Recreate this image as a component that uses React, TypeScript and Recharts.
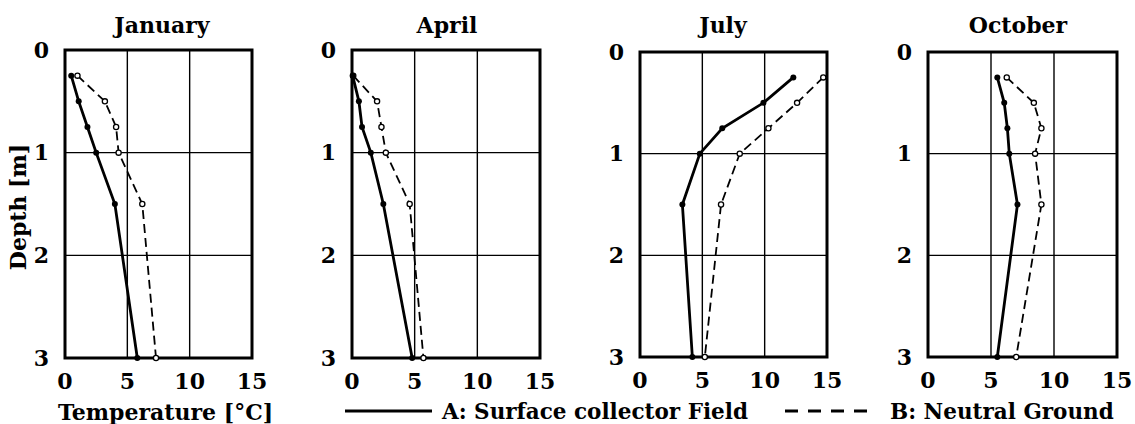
import React from 'react';
import { ScatterChart, Scatter, XAxis, YAxis, CartesianGrid, ReferenceArea } from 'recharts';

const FONT = '"DejaVu Serif", serif';

// depth of each measuring point [m]
const depths = [0.25, 0.5, 0.75, 1, 1.5, 3];
const tempTicks = [0, 5, 10, 15];
const depthTicks = [0, 1, 2, 3];

// temperatures [°C], A = surface collector field, B = neutral ground
const janA = [0.5, 1.1, 1.8, 2.5, 4.0, 5.8];
const janB = [1.0, 3.2, 4.1, 4.3, 6.2, 7.3];
const aprA = [0.05, 0.55, 0.8, 1.5, 2.5, 4.8];
const aprB = [0.1, 2.0, 2.35, 2.7, 4.6, 5.7];
const julA = [12.3, 9.9, 6.6, 4.8, 3.4, 4.2];
const julB = [14.7, 12.6, 10.3, 8.0, 6.5, 5.2];
const octA = [5.5, 6.05, 6.3, 6.45, 7.1, 5.5];
const octB = [6.25, 8.4, 9.0, 8.5, 9.0, 7.0];

const toPoints = (vals: number[]) => depths.map((d, i) => ({ t: vals[i], d }));

const tickStyle = { fill: '#000', fontSize: 22, fontWeight: 'bold', fontFamily: FONT };

const dotA = (p: any) => <circle cx={p.cx} cy={p.cy} r={3} fill="#000" />;
const dotB = (p: any) => <circle cx={p.cx} cy={p.cy} r={2.6} fill="#fff" stroke="#000" strokeWidth={1.3} />;

type PanelProps = {
  title: string;
  a: number[];
  b: number[];
  box: [number, number, number, number]; // left, right, top, bottom of the plot area
  titleX: number;
};

const Panel = ({ title, a, b, box, titleX }: PanelProps) => {
  const [l, r, t, btm] = box;
  const yw = 60;
  const rm = 22;
  const w = r - l + yw + rm;
  return (
    <>
      <div style={{ position: 'absolute', left: titleX - 80, width: 160, top: 14, textAlign: 'center', fontSize: 22, lineHeight: '22px' }}>
        {title}
      </div>
      <div style={{ position: 'absolute', left: l - yw, top: 0 }}>
        <ScatterChart width={w} height={424} margin={{ top: t, right: rm, left: 0, bottom: 424 - btm - 30 }}>
          <CartesianGrid stroke="#000" strokeWidth={1.4} />
          <XAxis
            type="number"
            dataKey="t"
            domain={[0, 15]}
            ticks={tempTicks}
            interval={0}
            tickLine={false}
            axisLine={false}
            tickSize={0}
            tickMargin={15}
            height={30}
            tick={tickStyle}
          />
          <YAxis
            type="number"
            dataKey="d"
            domain={[0, 3]}
            reversed
            ticks={depthTicks}
            interval={0}
            width={yw}
            tickLine={false}
            axisLine={false}
            tickSize={0}
            tickMargin={16}
            tick={tickStyle}
          />
          <ReferenceArea x1={0} x2={15} y1={0} y2={3} fill="none" stroke="#000" strokeWidth={3} />
          <Scatter
            data={toPoints(b)}
            fill="#000"
            line={{ stroke: '#000', strokeWidth: 1.8, strokeDasharray: '9 5' }}
            shape={dotB}
            isAnimationActive={false}
          />
          <Scatter
            data={toPoints(a)}
            fill="#000"
            line={{ stroke: '#000', strokeWidth: 2.8 }}
            shape={dotA}
            isAnimationActive={false}
          />
        </ScatterChart>
      </div>
    </>
  );
};

export default function App() {
  return (
    <div
      style={{
        position: 'absolute',
        left: 0,
        top: 0,
        width: 1135,
        height: 424,
        background: '#fff',
        fontFamily: FONT,
        fontWeight: 'bold',
        color: '#000',
        overflow: 'hidden',
      }}
    >
      <Panel title="January" a={janA} b={janB} box={[65, 252, 50, 358]} titleX={162} />
      <Panel title="April" a={aprA} b={aprB} box={[352, 540, 50, 358]} titleX={447} />
      <Panel title="July" a={julA} b={julB} box={[640, 827, 52, 357]} titleX={723} />
      <Panel title="October" a={octA} b={octB} box={[928, 1117, 52, 357]} titleX={1018} />

      <div
        style={{
          position: 'absolute',
          left: 18 - 70,
          width: 140,
          top: 207 - 11,
          lineHeight: '22px',
          fontSize: 22,
          textAlign: 'center',
          transform: 'rotate(-90deg)',
        }}
      >
        Depth [m]
      </div>

      <div style={{ position: 'absolute', left: 58, top: 401, fontSize: 22, lineHeight: '22px', whiteSpace: 'nowrap' }}>
        Temperature [°C]
      </div>

      <svg style={{ position: 'absolute', left: 0, top: 0 }} width={1135} height={424} pointerEvents="none">
        <line x1={345} x2={432} y1={411} y2={411} stroke="#000" strokeWidth={3} />
        <line x1={785} x2={868} y1={411} y2={411} stroke="#000" strokeWidth={3} strokeDasharray="13 10" />
      </svg>
      <div style={{ position: 'absolute', left: 442, top: 401, fontSize: 21.5, lineHeight: '22px', whiteSpace: 'nowrap' }}>
        A: Surface collector Field
      </div>
      <div style={{ position: 'absolute', left: 890, top: 401, fontSize: 21.5, lineHeight: '22px', whiteSpace: 'nowrap' }}>
        B: Neutral Ground
      </div>
    </div>
  );
}
